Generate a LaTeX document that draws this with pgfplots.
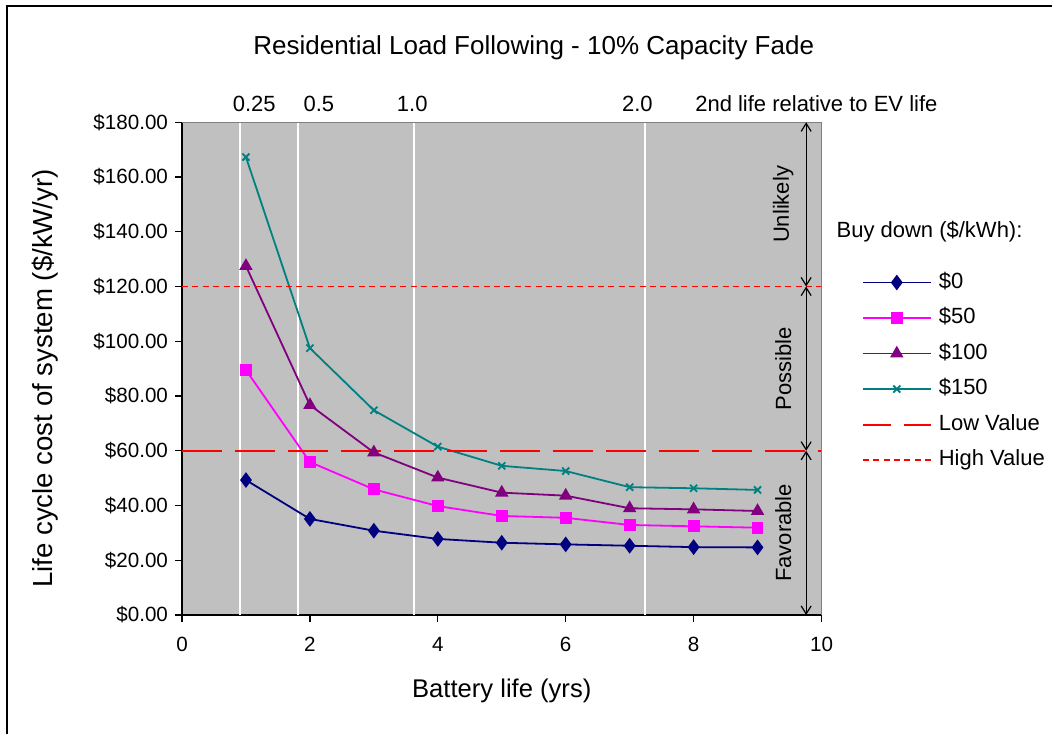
\documentclass[border=0pt]{standalone}
\usepackage{fontspec}
\setmainfont{Liberation Sans}
\usepackage{pgfplots}
\pgfplotsset{compat=1.18}
\usetikzlibrary{arrows.meta}
\definecolor{plotbg}{RGB}{192,192,192}
\definecolor{sNavy}{RGB}{0,0,128}
\definecolor{sMag}{RGB}{255,0,255}
\definecolor{sPurp}{RGB}{128,0,128}
\definecolor{sTeal}{RGB}{0,128,128}
\definecolor{lineRed}{RGB}{255,0,0}
\pgfplotsset{
 lowlegend/.style={legend image code/.code={\draw[##1, dash pattern=on 14pt off 6.5pt] (0pt,0pt)--(34pt,0pt);}},
 highlegend/.style={legend image code/.code={\draw[##1] (0pt,0pt)--(34pt,0pt);}},
}
\begin{document}
\begin{tikzpicture}
\useasboundingbox (-91pt,-59.5pt) rectangle (435pt,307.5pt);
\draw[line width=1pt] (-87.5pt,-59.5pt) -- (-87.5pt,304.5pt) -- (435pt,304.5pt);
\begin{axis}[
 at={(0,0)}, anchor=south west, scale only axis,
 width=319.75pt, height=246.35pt,
 xmin=0, xmax=10, ymin=0, ymax=180,
 xtick={0,2,...,10}, ytick={0,20,...,180},
 axis x line*=bottom, axis y line*=left,
 axis line style={black, line width=0.8pt, -},
 axis background/.style={fill=plotbg, draw=gray, line width=0.8pt},
 tick align=outside, major tick length=3.5pt,
 tick style={black, line width=0.6pt},
 /pgf/number format/assume math mode=true,
 ticklabel style={font=\fontsize{10.3}{12}\selectfont},
 yticklabel={\$\pgfmathprintnumber[fixed,fixed zerofill,precision=2]{\tick}},
 xticklabel style={yshift=-4pt},
 xlabel={Battery life (yrs)},
 ylabel={Life cycle cost of system (\$/kW/yr)},
 label style={font=\fontsize{12.8}{15}\selectfont},
 xlabel style={at={(axis description cs:0.5,-0.153)}, anchor=center},
 ylabel style={at={(axis description cs:-0.214,0.48)}, anchor=center, font=\fontsize{13.8}{16}\selectfont},
 clip=false,
 legend image code/.code={\draw[mark repeat=2,mark phase=2,#1] plot coordinates {(0pt,0pt)(17pt,0pt)(34pt,0pt)};},
 legend style={at={(axis cs:10.63,125.3)}, anchor=north west, draw=none, fill=none,
   inner sep=0pt, outer sep=0pt, row sep=7.25pt, column sep=3.5pt,
   font=\fontsize{11}{13}\selectfont,
   nodes={inner sep=0pt, text height=8pt, text depth=2.5pt, anchor=west}},
 legend cell align=left,
]
% vertical reference lines (2nd life relative to EV life)
\addplot[white, line width=1pt, forget plot] coordinates {(0.905,0)(0.905,180)};
\addplot[white, line width=1pt, forget plot] coordinates {(1.81,0)(1.81,180)};
\addplot[white, line width=1pt, forget plot] coordinates {(3.62,0)(3.62,180)};
\addplot[white, line width=1pt, forget plot] coordinates {(7.24,0)(7.24,180)};

\addplot[sNavy, line width=0.9pt, mark=diamond*, mark size=3.2pt, mark options={solid, fill=sNavy}]
 coordinates {(1,49.3)(2,35.1)(3,30.8)(4,27.8)(5,26.4)(6,25.8)(7,25.3)(8,24.8)(9,24.7)};
\addlegendentry{\$0}
\addplot[sMag, line width=0.9pt, mark=square*, mark size=2.5pt, mark options={solid, fill=sMag}]
 coordinates {(1,89.5)(2,55.9)(3,45.9)(4,39.8)(5,36.2)(6,35.5)(7,32.9)(8,32.4)(9,31.9)};
\addlegendentry{\$50}
\addplot[sPurp, line width=0.9pt, mark=triangle*, mark size=3pt, mark options={solid, fill=sPurp}]
 coordinates {(1,127.5)(2,76.7)(3,59.4)(4,50.2)(5,44.7)(6,43.6)(7,39.0)(8,38.6)(9,38.0)};
\addlegendentry{\$100}
\addplot[sTeal, line width=0.9pt, mark=x, mark size=2.5pt, mark options={solid}]
 coordinates {(1,167.3)(2,97.5)(3,74.8)(4,61.5)(5,54.5)(6,52.6)(7,46.7)(8,46.3)(9,45.7)};
\addlegendentry{\$150}
\addplot[lineRed, line width=1pt, dash pattern=on 20pt off 6.5pt, lowlegend]
 coordinates {(0,60)(10,60)};
\addlegendentry{Low Value}
\addplot[lineRed, line width=0.8pt, dash pattern=on 3pt off 2.2pt, highlegend]
 coordinates {(0,120)(10,120)};
\addlegendentry{High Value}

% plot area right/top border redraw
\draw[gray, line width=0.8pt] (rel axis cs:0,1) -- (rel axis cs:1,1) -- (rel axis cs:1,0);

% region arrows and labels
\draw[{Straight Barb[length=4pt,width=5pt]}-{Straight Barb[length=4pt,width=5pt]}, line width=0.6pt] (axis cs:9.76,180) -- (axis cs:9.76,120);
\draw[{Straight Barb[length=4pt,width=5pt]}-{Straight Barb[length=4pt,width=5pt]}, line width=0.6pt] (axis cs:9.76,120) -- (axis cs:9.76,60);
\draw[{Straight Barb[length=4pt,width=5pt]}-{Straight Barb[length=4pt,width=5pt]}, line width=0.6pt] (axis cs:9.76,60) -- (axis cs:9.76,0);
\node[rotate=90, font=\fontsize{11}{13}\selectfont] at (axis cs:9.40,150) {Unlikely};
\node[rotate=90, font=\fontsize{11}{13}\selectfont] at (axis cs:9.40,90) {Possible};
\node[rotate=90, font=\fontsize{11}{13}\selectfont] at (axis cs:9.40,30) {Favorable};

% top labels
\node[font=\fontsize{11}{13}\selectfont] at (axis cs:1.13,186.7) {0.25};
\node[font=\fontsize{11}{13}\selectfont] at (axis cs:2.14,186.7) {0.5};
\node[font=\fontsize{11}{13}\selectfont] at (axis cs:3.6,186.7) {1.0};
\node[font=\fontsize{11}{13}\selectfont] at (axis cs:7.12,186.7) {2.0};
\node[font=\fontsize{11}{13}\selectfont, anchor=west, inner sep=0pt] at (axis cs:8.02,186.7) {2nd life relative to EV life};

% title
\node[font=\fontsize{13}{15}\selectfont] at (axis cs:5.5,207.2) {Residential Load Following - 10\% Capacity Fade};

% legend title
\node[font=\fontsize{11}{13}\selectfont, anchor=west, inner sep=0pt] at (axis cs:10.23,139.9) {Buy down (\$/kWh):};
\end{axis}
\end{tikzpicture}
\end{document}
